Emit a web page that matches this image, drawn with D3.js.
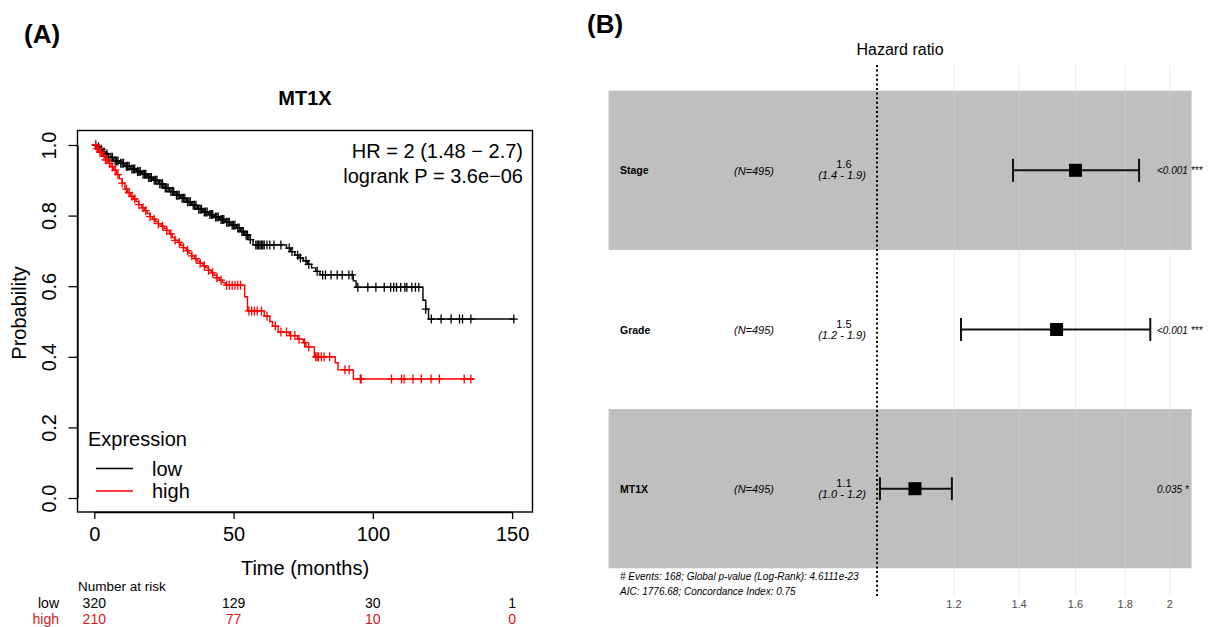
<!DOCTYPE html>
<html><head><meta charset="utf-8">
<script src="https://cdn.jsdelivr.net/npm/d3@7"></script>
<style>body{margin:0;background:#fff}svg{display:block}</style>
</head><body>
<svg id="c" width="1211" height="627"></svg>
<script>
// ---------- Panel A data (Kaplan-Meier, MT1X) ----------
const timeTicks = [0, 50, 100, 150];
const probTicks = [0, 0.2, 0.4, 0.6, 0.8, 1.0];
const lowSteps = [[0,1],[1,0.995],[2,0.988],[3,0.98],[4,0.975],[5,0.965],[7,0.955],[9,0.948],[11,0.94],[13,0.932],
  [15,0.925],[17,0.917],[19,0.908],[21,0.9],[23,0.89],[25,0.878],[27,0.868],[29,0.858],[31,0.849],[33,0.839],
  [35,0.829],[37,0.818],[39,0.81],[41,0.803],[43,0.796],[45,0.789],[47,0.781],[49,0.773],[51,0.765],[52.5,0.755],
  [54,0.745],[55.5,0.732],[57,0.717],[69,0.708],[70.5,0.698],[72,0.688],[73.5,0.68],[75,0.672],[76.5,0.662],[78,0.652],
  [79.5,0.642],[81,0.632],[93,0.615],[94,0.597],[118,0.56],[119,0.535],[120,0.507]];
const lowEnd = 151;
const lowCensor = [0.5,1.5,2.5,3.5,4.5,5.2,6,6.5,7.5,8,8.5,9.5,10,10.5,11.5,12,12.5,13.5,14,14.5,15.5,16,16.5,17.5,18,18.5,
  19.5,20,20.5,21.5,22,22.5,23.5,24,24.5,25.5,26,26.5,27.5,28,28.5,29.5,30,30.5,31.5,32,32.5,33.5,34,34.5,35.5,36,36.5,
  37.5,38,38.5,39.5,40,40.5,41.5,42,42.5,43.5,44,44.5,45.5,46,46.5,47.5,48,48.5,49.5,50,50.5,51.5,52,53,53.5,54.5,55,56,
  58,58.5,59,59.5,60,60.5,61,62,63,64.5,67,70,71,73,74,76,77,80,82,83,85,87.2,89,91.4,92.6,94.6,98.2,101.1,104.1,106.4,
  107.5,108.5,110,111.5,112.2,114,115.3,116.5,119,121,124.5,128.1,131.1,132.2,135.2,150.6];
const highSteps = [[0,1],[1,0.99],[2,0.98],[3,0.968],[4,0.958],[5,0.948],[6,0.938],[7,0.929],[8,0.916],[9,0.904],
  [10,0.892],[11,0.875],[12,0.865],[13,0.855],[14,0.847],[15,0.84],[16,0.831],[17,0.822],[18,0.814],[19,0.806],
  [20,0.797],[21,0.79],[22,0.783],[23,0.777],[24,0.77],[25,0.764],[26,0.758],[27,0.748],[28,0.738],[29,0.73],
  [30,0.724],[31,0.716],[32,0.709],[33,0.701],[34,0.693],[35,0.686],[36,0.678],[37,0.671],[38,0.665],[39,0.658],
  [40,0.652],[41,0.645],[42,0.638],[43,0.631],[44,0.624],[45,0.617],[46,0.61],[47,0.603],[54,0.57],[55,0.53],
  [61,0.515],[63,0.5],[64,0.487],[66,0.47],[70,0.46],[73,0.45],[75,0.44],[76,0.428],[79,0.4],[86.5,0.383],
  [87.5,0.363],[93,0.337]];
const highEnd = 136.4;
const highCensor = [0.5,1,1.5,2,2.5,3.5,4,4.5,5.5,6.5,7.5,8.5,10,11.5,12.5,13.5,14.5,16,17.5,18.5,20,21.5,23,24.5,26,
  27.5,29,30.5,32,33.5,35,36.5,38,39.5,41,42.5,44,45.5,47.5,48.5,49.5,50.5,51.5,52.5,55.5,56.5,57.5,58.5,60,62,65,
  67,69,70.5,72,73.5,75.5,77,79.5,80,80.5,81.5,82.5,84.5,90,91.5,95.5,95.8,106.7,110.3,111.2,114.4,117.4,120.9,
  123.9,132.8,135.2];
const riskTimes = [0, 50, 100, 150];
const riskLow = [320, 129, 30, 1];
const riskHigh = [210, 77, 10, 0];
const groupNames = ["low", "high"];

// ---------- Panel B data (forest plot) ----------
const forestVars = ["Stage", "Grade", "MT1X"];
const forestN = ["(N=495)", "(N=495)", "(N=495)"];
const forestHR = [1.6, 1.53, 1.094];
const forestLo = [1.38, 1.22, 1.007];
const forestHi = [1.86, 1.91, 1.194];
const hrLabel = ["1.6", "1.5", "1.1"];
const ciLabel = ["(1.4 - 1.9)", "(1.2 - 1.9)", "(1.0 - 1.2)"];
const pLabel = ["<0.001 ***", "<0.001 ***", "0.035 *"];
const hrTicks = [1.2, 1.4, 1.6, 1.8, 2];
const footLines = ["# Events: 168; Global p-value (Log-Rank): 4.6111e-23", "AIC: 1776.68; Concordance Index: 0.75"];

const FONT = "'Liberation Sans', Arial, Helvetica, sans-serif";
const svg = d3.select("#c").style("font-family", FONT);

// ===== Panel labels =====
svg.append("text").attr("x", 24).attr("y", 43).attr("font-size", 26).attr("font-weight", "bold").text("(A)");
svg.append("text").attr("x", 587).attr("y", 33).attr("font-size", 26).attr("font-weight", "bold").text("(B)");

// ===== Panel A =====
const x = d3.scaleLinear().domain([0, 150]).range([94.3, 512.1]);
const y = d3.scaleLinear().domain([0, 1]).range([498, 145]);
const gA = svg.append("g");

gA.append("text").attr("x", 305).attr("y", 105).attr("text-anchor", "middle")
  .attr("font-size", 20).attr("font-weight", "bold").text("MT1X");

const xAx = gA.append("g").attr("transform", "translate(0,512)")
  .call(d3.axisBottom(x).tickValues(timeTicks).tickSize(7).tickSizeOuter(0).tickPadding(8).tickFormat(d3.format("d")));
xAx.selectAll("text").attr("font-size", 20).attr("fill", "#000").attr("font-family", FONT);
xAx.selectAll("line,path").attr("stroke", "#000").attr("stroke-width", 1.3);

const yAx = gA.append("g").attr("transform", "translate(77.5,0)")
  .call(d3.axisLeft(y).tickValues(probTicks).tickSize(9).tickSizeOuter(0).tickFormat(d3.format(".1f")));
yAx.selectAll("line,path").attr("stroke", "#000").attr("stroke-width", 1.3);
yAx.selectAll("text").attr("font-size", 20).attr("fill", "#000").attr("font-family", FONT)
  .attr("text-anchor", "middle").attr("x", 0).attr("dy", 0).attr("y", -22).attr("transform", "rotate(-90)");

gA.append("rect").attr("x", 77.5).attr("y", 130.5).attr("width", 455).attr("height", 381.5)
  .attr("fill", "none").attr("stroke", "#000").attr("stroke-width", 1.4);

gA.append("text").attr("transform", "translate(26,313) rotate(-90)").attr("text-anchor", "middle")
  .attr("font-size", 20).text("Probability");
gA.append("text").attr("x", 305).attr("y", 575).attr("text-anchor", "middle").attr("font-size", 20).text("Time (months)");

const stepLine = d3.line().x(d => x(d[0])).y(d => y(d[1])).curve(d3.curveStepAfter);
function survAt(steps, t) {
  const i = d3.bisectRight(steps.map(d => d[0]), t) - 1;
  return steps[Math.max(0, i)][1];
}
function drawGroup(steps, end, censor, color) {
  const pts = steps.concat([[end, steps[steps.length - 1][1]]]);
  gA.append("path").attr("d", stepLine(pts)).attr("fill", "none").attr("stroke", color).attr("stroke-width", 1.4);
  gA.append("g").selectAll("path").data(censor).join("path")
    .attr("d", t => {
      const cx = x(t), cy = y(survAt(steps, t));
      return `M${cx - 4},${cy}H${cx + 4}M${cx},${cy - 4.5}V${cy + 4.5}`;
    })
    .attr("stroke", color).attr("stroke-width", 1.3).attr("fill", "none");
}
drawGroup(lowSteps, lowEnd, lowCensor, "#000");
drawGroup(highSteps, highEnd, highCensor, "#ff0000");

gA.append("text").attr("x", 523).attr("y", 158).attr("text-anchor", "end").attr("font-size", 20).text("HR = 2 (1.48 \u2212 2.7)");
gA.append("text").attr("x", 523).attr("y", 183).attr("text-anchor", "end").attr("font-size", 20).text("logrank P = 3.6e\u221206");

// legend
gA.append("text").attr("x", 88).attr("y", 446).attr("font-size", 20).text("Expression");
const legColors = ["#000", "#ff0000"];
groupNames.forEach((g, i) => {
  const ly = 468.5 + i * 22.5;
  gA.append("line").attr("x1", 96).attr("x2", 133).attr("y1", ly).attr("y2", ly).attr("stroke", legColors[i]).attr("stroke-width", 1.3);
  gA.append("text").attr("x", 152).attr("y", ly + 7).attr("font-size", 20).text(g);
});

// number at risk
gA.append("text").attr("x", 78).attr("y", 591).attr("font-size", 13.5).text("Number at risk");
const riskColors = ["#000", "#d01818"];
[riskLow, riskHigh].forEach((row, i) => {
  const ry = 608 + i * 16;
  gA.append("text").attr("x", 59).attr("y", ry).attr("text-anchor", "end").attr("font-size", 14)
    .attr("fill", riskColors[i]).text(groupNames[i]);
  gA.append("g").selectAll("text").data(row).join("text")
    .attr("x", (d, j) => x(riskTimes[j])).attr("y", ry).attr("text-anchor", "middle").attr("font-size", 14)
    .attr("fill", riskColors[i]).text(d => d);
});

// ===== Panel B =====
const gB = svg.append("g");
const xF = d3.scaleLog().domain([0.5296, 2.1064]).range([608.6, 1191.6]);
const yF = d3.scaleBand().domain(forestVars).range([90.7, 568.3]);
const gridTop = 65, gridBot = 597;

gB.append("text").attr("x", 900).attr("y", 55).attr("text-anchor", "middle").attr("font-size", 16).text("Hazard ratio");

gB.append("g").selectAll("line").data(hrTicks).join("line")
  .attr("x1", d => xF(d)).attr("x2", d => xF(d)).attr("y1", gridTop).attr("y2", gridBot)
  .attr("stroke", "#ececec").attr("stroke-width", 1);
gB.append("g").selectAll("rect").data(forestVars).join("rect")
  .attr("x", 608.6).attr("width", 583).attr("y", d => yF(d)).attr("height", yF.bandwidth())
  .attr("fill", (d, i) => i % 2 === 0 ? "#bfbfbf" : "none");
forestVars.forEach((v, i) => {
  if (i % 2 !== 0) return;
  gB.append("g").selectAll("line").data(hrTicks).join("line")
    .attr("x1", d => xF(d)).attr("x2", d => xF(d)).attr("y1", yF(v)).attr("y2", yF(v) + yF.bandwidth())
    .attr("stroke", "#cbcbcb").attr("stroke-width", 1);
});
gB.append("line").attr("x1", xF(1)).attr("x2", xF(1)).attr("y1", gridTop).attr("y2", gridBot)
  .attr("stroke", "#000").attr("stroke-width", 2).attr("stroke-dasharray", "2,2.6");

forestVars.forEach((v, i) => {
  const cy = yF(v) + yF.bandwidth() / 2;
  gB.append("text").attr("x", 620).attr("y", cy + 4).attr("font-size", 10.5).attr("font-weight", "bold").text(v);
  gB.append("text").attr("x", 754).attr("y", cy + 4.5).attr("text-anchor", "middle").attr("font-size", 11)
    .attr("font-style", "italic").text(forestN[i]);
  gB.append("text").attr("x", 844).attr("y", cy - 2).attr("text-anchor", "middle").attr("font-size", 11).text(hrLabel[i]);
  gB.append("text").attr("x", 842).attr("y", cy + 9).attr("text-anchor", "middle").attr("font-size", 11)
    .attr("font-style", "italic").text(ciLabel[i]);
  gB.append("line").attr("x1", xF(forestLo[i])).attr("x2", xF(forestHi[i])).attr("y1", cy).attr("y2", cy)
    .attr("stroke", "#111").attr("stroke-width", 2);
  [forestLo[i], forestHi[i]].forEach(e => {
    gB.append("line").attr("x1", xF(e)).attr("x2", xF(e)).attr("y1", cy - 11.5).attr("y2", cy + 11.5)
      .attr("stroke", "#111").attr("stroke-width", 2);
  });
  gB.append("rect").attr("x", xF(forestHR[i]) - 6.5).attr("y", cy - 6.5).attr("width", 13).attr("height", 13).attr("fill", "#000");
  gB.append("text").attr("x", 1157).attr("y", cy + 4).attr("font-size", 10).attr("font-style", "italic").text(pLabel[i]);
});

footLines.forEach((t, i) => {
  gB.append("text").attr("x", 620).attr("y", 580 + i * 15).attr("font-size", 10).attr("font-style", "italic").text(t);
});

gB.append("g").selectAll("text").data(hrTicks).join("text")
  .attr("x", d => xF(d)).attr("y", 608).attr("text-anchor", "middle").attr("font-size", 11).attr("fill", "#4d4d4d")
  .text(d => d3.format("~g")(d));
</script>
</body></html>
